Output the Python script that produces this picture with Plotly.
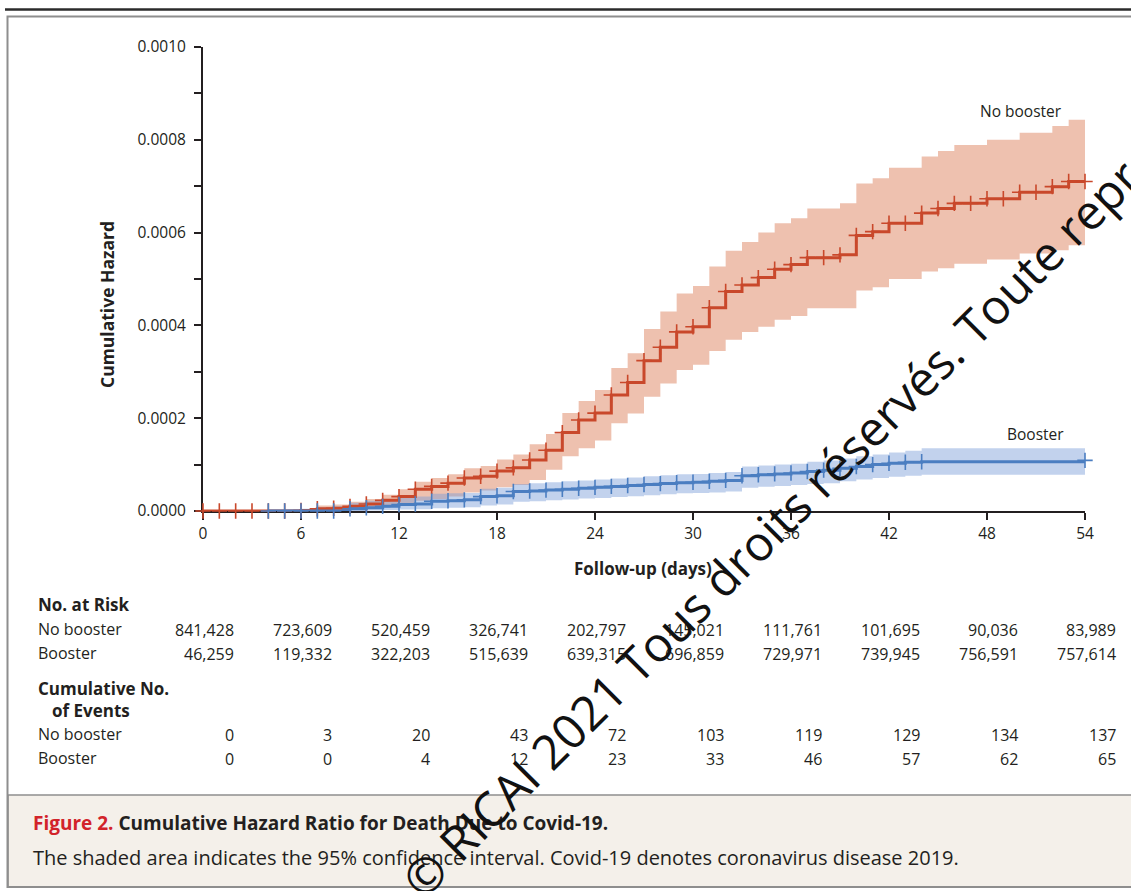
import plotly.graph_objects as go

# ---------------------------------------------------------------- data
days = list(range(0, 55))

# No booster: cumulative hazard and 95% CI by follow-up day
nobooster_hazard = [
    0, 0, 0, 0, 0, 0, 0.000001, 0.000005, 0.000006, 0.000010,
    0.000015, 0.000023, 0.000031, 0.000047, 0.000053, 0.000060, 0.000071, 0.000075, 0.000086, 0.000093,
    0.000110, 0.000131, 0.000169, 0.000196, 0.000211, 0.000250, 0.000277, 0.000324, 0.000353, 0.000386,
    0.000397, 0.000438, 0.000473, 0.000487, 0.000503, 0.000521, 0.000531, 0.000546, 0.000546, 0.000552,
    0.000594, 0.000602, 0.000620, 0.000620, 0.000642, 0.000652, 0.000663, 0.000663, 0.000673, 0.000673,
    0.000687, 0.000687, 0.000699, 0.000710, 0.000710,
]
nobooster_upper = [
    0, 0, 0, 0, 0, 0, 0.000004, 0.000012, 0.000014, 0.000020,
    0.000026, 0.000035, 0.000047, 0.000063, 0.000071, 0.000079, 0.000092, 0.000097, 0.000111, 0.000122,
    0.000144, 0.000166, 0.000211, 0.000237, 0.000261, 0.000308, 0.000340, 0.000392, 0.000430, 0.000469,
    0.000485, 0.000527, 0.000561, 0.000580, 0.000600, 0.000620, 0.000631, 0.000652, 0.000652, 0.000663,
    0.000706, 0.000717, 0.000740, 0.000740, 0.000764, 0.000776, 0.000789, 0.000789, 0.000800, 0.000800,
    0.000815, 0.000815, 0.000830, 0.000843, 0.000843,
]
nobooster_lower = [
    0, 0, 0, 0, 0, 0, 0, 0.000001, 0.000002, 0.000004,
    0.000006, 0.000010, 0.000015, 0.000022, 0.000026, 0.000031, 0.000040, 0.000044, 0.000051, 0.000056,
    0.000067, 0.000089, 0.000118, 0.000135, 0.000152, 0.000189, 0.000210, 0.000246, 0.000275, 0.000304,
    0.000315, 0.000345, 0.000369, 0.000386, 0.000397, 0.000412, 0.000420, 0.000437, 0.000437, 0.000437,
    0.000475, 0.000482, 0.000500, 0.000500, 0.000516, 0.000523, 0.000533, 0.000533, 0.000542, 0.000542,
    0.000555, 0.000555, 0.000562, 0.000573, 0.000573,
]

# Booster: follow-up days with recorded values (flat from day 44 to 54)
booster_days = list(range(4, 45)) + [54]
booster_hazard = [
    0, 0, 0, 0, 0, 0.000005, 0.000007, 0.000010, 0.000014, 0.000015,
    0.000021, 0.000022, 0.000024, 0.000031, 0.000033, 0.000042, 0.000043, 0.000045, 0.000047, 0.000049,
    0.000051, 0.000053, 0.000055, 0.000057, 0.000059, 0.000061, 0.000062, 0.000064, 0.000066, 0.000076,
    0.000078, 0.000080, 0.000082, 0.000085, 0.000088, 0.000092, 0.000096, 0.000100, 0.000103, 0.000105,
    0.000106, 0.000109,
]
booster_upper = [
    0.000003, 0.000004, 0.000005, 0.000008, 0.000010, 0.000018, 0.000022, 0.000026, 0.000030, 0.000031,
    0.000037, 0.000038, 0.000039, 0.000048, 0.000050, 0.000058, 0.000060, 0.000062, 0.000064, 0.000066,
    0.000068, 0.000070, 0.000072, 0.000075, 0.000077, 0.000079, 0.000080, 0.000082, 0.000084, 0.000096,
    0.000098, 0.000100, 0.000102, 0.000106, 0.000109, 0.000113, 0.000118, 0.000122, 0.000126, 0.000130,
    0.000135, 0.000139,
]
booster_lower = [
    0, 0, 0, 0, 0, 0, 0.000001, 0.000002, 0.000003, 0.000004,
    0.000006, 0.000007, 0.000008, 0.000012, 0.000014, 0.000020, 0.000021, 0.000023, 0.000025, 0.000027,
    0.000028, 0.000030, 0.000032, 0.000034, 0.000036, 0.000038, 0.000039, 0.000040, 0.000042, 0.000050,
    0.000052, 0.000054, 0.000056, 0.000058, 0.000060, 0.000064, 0.000068, 0.000071, 0.000074, 0.000076,
    0.000078, 0.000078,
]

# Risk table
table_days = [0, 6, 12, 18, 24, 30, 36, 42, 48, 54]
at_risk_nobooster = ["841,428", "723,609", "520,459", "326,741", "202,797",
                     "145,021", "111,761", "101,695", "90,036", "83,989"]
at_risk_booster = ["46,259", "119,332", "322,203", "515,639", "639,315",
                   "696,859", "729,971", "739,945", "756,591", "757,614"]
events_nobooster = [0, 3, 20, 43, 72, 103, 119, 129, 134, 137]
events_booster = [0, 0, 4, 12, 23, 33, 46, 57, 62, 65]

x_ticks = list(range(0, 55, 6))

# ---------------------------------------------------------------- styles
RED = "#C9482B"
BLUE = "#4B7EC1"
RED_BAND = "rgba(221,131,95,0.5)"
BLUE_BAND = "rgba(120,155,215,0.45)"
INK = "#231F20"
FONT = "Open Sans, Lato, sans-serif"

W, H = 1131, 891
PL, PR, PT, PB = 203, 1085, 47, 511


def px(x):
    return (x - PL) / (PR - PL)


def py(y):
    return (PB - y) / (PB - PT)


fig = go.Figure()

# confidence bands
fig.add_trace(go.Scatter(x=days, y=nobooster_lower, mode="lines", line=dict(width=0, shape="hv"),
                         hoverinfo="skip", showlegend=False))
fig.add_trace(go.Scatter(x=days, y=nobooster_upper, mode="lines", line=dict(width=0, shape="hv"),
                         fill="tonexty", fillcolor=RED_BAND, hoverinfo="skip", showlegend=False))
fig.add_trace(go.Scatter(x=booster_days, y=booster_lower, mode="lines", line=dict(width=0, shape="hv"),
                         hoverinfo="skip", showlegend=False))
fig.add_trace(go.Scatter(x=booster_days, y=booster_upper, mode="lines", line=dict(width=0, shape="hv"),
                         fill="tonexty", fillcolor=BLUE_BAND, hoverinfo="skip", showlegend=False))

# step curves with censoring marks
fig.add_trace(go.Scatter(
    x=days, y=nobooster_hazard, mode="lines+markers", name="No booster",
    line=dict(color=RED, width=3, shape="hv"),
    marker=dict(symbol="cross-thin", size=11, line=dict(color=RED, width=1.6)),
    cliponaxis=False, showlegend=False))
fig.add_trace(go.Scatter(
    x=booster_days, y=booster_hazard, mode="lines+markers", name="Booster",
    line=dict(color=BLUE, width=3, shape="hv"),
    marker=dict(symbol="cross-thin", size=11, line=dict(color=BLUE, width=1.6)),
    cliponaxis=False, showlegend=False))

annotations = []


def text(x, y, s, size=16, bold=False, anchor="left", color=INK, **kw):
    annotations.append(dict(
        x=px(x), y=py(y), xref="paper", yref="paper", text=f"<b>{s}</b>" if bold else s,
        showarrow=False, xanchor=anchor, yanchor="middle", borderpad=0,
        font=dict(family=FONT, size=size, color=color), **kw))


# axis titles and curve labels
text(107, 305, "Cumulative Hazard", size=17.5, bold=True, anchor="center", textangle=-90)
text(643, 568, "Follow-up (days)", size=17, bold=True, anchor="center")
text(1021, 111, "No booster", size=15.5, anchor="center")
text(1035, 434, "Booster", size=15.5, anchor="center")

# risk table
text(37, 604, "No. at Risk", size=17, bold=True)
text(37, 629, "No booster", size=16)
text(37, 653, "Booster", size=16)
text(37, 688, "Cumulative No.", size=17, bold=True)
text(51, 711, "of Events", size=17, bold=True)
text(37, 734, "No booster", size=16)
text(37, 758, "Booster", size=16)

rows = [(630, at_risk_nobooster), (654, at_risk_booster),
        (735, events_nobooster), (759, events_booster)]
for ypix, values in rows:
    for d, v in zip(table_days, values):
        annotations.append(dict(
            x=d, y=py(ypix), xref="x", yref="paper", xshift=32, text=str(v),
            showarrow=False, xanchor="right", yanchor="middle", borderpad=0,
            font=dict(family=FONT, size=16, color=INK)))

# caption
text(32, 823, "<span style='color:#D2232A'>Figure 2.</span> Cumulative Hazard Ratio for Death Due to Covid-19.",
     size=19, bold=True)
text(32, 857, "The shaded area indicates the 95% confidence interval. Covid-19 denotes coronavirus disease 2019.",
     size=20)

# diagonal copyright mark
annotations.append(dict(
    x=px(770), y=py(528), xref="paper", yref="paper",
    text="© RICAI 2021 Tous droits réservés. Toute repr",
    showarrow=False, xanchor="center", yanchor="middle", textangle=-45,
    font=dict(family="Open Sans, sans-serif", size=48, color="#111111")))

shapes = [
    # caption panel
    dict(type="rect", xref="paper", yref="paper", x0=px(8), x1=px(1145), y0=py(795), y1=py(887),
         fillcolor="#F4F0EA", line=dict(color="#8E8E8E", width=1.5), layer="below"),
    # outer frame
    dict(type="rect", xref="paper", yref="paper", x0=px(7.5), x1=px(1145), y0=py(16.5), y1=py(887),
         line=dict(color="#8E8E8E", width=2), layer="below"),
    # heavy rule at the top
    dict(type="line", xref="paper", yref="paper", x0=px(5), x1=px(1145), y0=py(9.5), y1=py(9.5),
         line=dict(color="#2B2B2B", width=2.5)),
]

fig.update_layout(
    width=W, height=H,
    margin=dict(l=PL, r=W - PR, t=PT, b=H - PB, pad=0),
    paper_bgcolor="white", plot_bgcolor="white",
    font=dict(family=FONT, color=INK),
    annotations=annotations, shapes=shapes,
    xaxis=dict(range=[0, 54], tickvals=x_ticks, ticks="outside", ticklen=7, tickwidth=2,
               tickcolor=INK, showline=True, linecolor=INK, linewidth=2, showgrid=False,
               zeroline=False, tickfont=dict(size=15.5, color=INK), layer="below traces"),
    yaxis=dict(range=[0, 0.001], dtick=0.0002, tick0=0, tickformat=".4f", ticks="outside",
               ticklen=7, tickwidth=2, tickcolor=INK, showline=True, linecolor=INK, linewidth=2,
               showgrid=False, zeroline=False, tickfont=dict(size=15.5, color=INK),
               ticklabelstandoff=5,
               minor=dict(dtick=0.0001, ticks="outside", ticklen=7, tickwidth=2, tickcolor=INK),
               layer="below traces"),
)

fig.write_html("out.html")
